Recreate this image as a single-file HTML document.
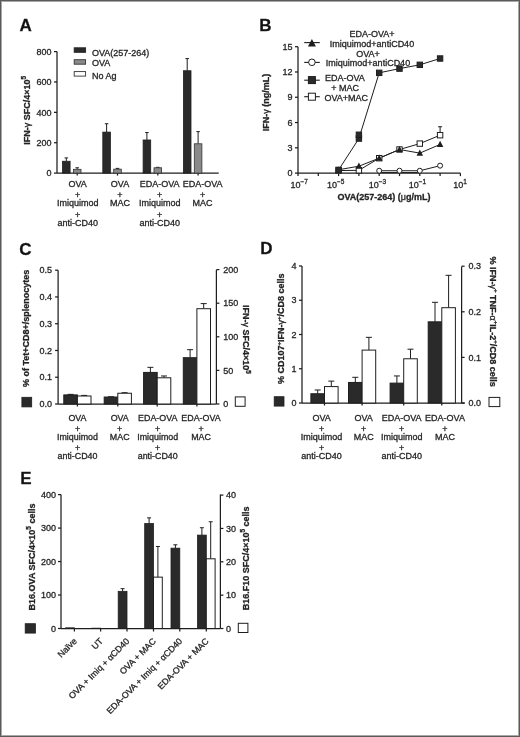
<!DOCTYPE html>
<html><head><meta charset="utf-8"><style>
html,body{margin:0;padding:0;background:#fff;}
#f{position:relative;width:520px;height:737px;overflow:hidden;}
svg{position:absolute;left:0;top:0;will-change:transform;}
text{font-family:"Liberation Sans", sans-serif;stroke:#2a2a2a;stroke-width:0.3px;}
</style></head><body><div id="f">
<svg width="520" height="737" viewBox="0 0 520 737">
<rect x="0" y="0" width="520" height="737" fill="#fff"/>
<text x="19.50" y="31.40" font-size="17" text-anchor="start" font-weight="bold" fill="#111" >A</text>
<line x1="57.00" y1="51.60" x2="57.00" y2="173.10" stroke="#1e1e1e" stroke-width="1.25"/>
<line x1="54.00" y1="173.10" x2="57.00" y2="173.10" stroke="#1e1e1e" stroke-width="1.25"/>
<text x="51.50" y="176.30" font-size="9" text-anchor="end" font-weight="normal" fill="#222" >0</text>
<line x1="54.00" y1="142.72" x2="57.00" y2="142.72" stroke="#1e1e1e" stroke-width="1.25"/>
<text x="51.50" y="145.92" font-size="9" text-anchor="end" font-weight="normal" fill="#222" >200</text>
<line x1="54.00" y1="112.35" x2="57.00" y2="112.35" stroke="#1e1e1e" stroke-width="1.25"/>
<text x="51.50" y="115.55" font-size="9" text-anchor="end" font-weight="normal" fill="#222" >400</text>
<line x1="54.00" y1="81.97" x2="57.00" y2="81.97" stroke="#1e1e1e" stroke-width="1.25"/>
<text x="51.50" y="85.17" font-size="9" text-anchor="end" font-weight="normal" fill="#222" >600</text>
<line x1="54.00" y1="51.60" x2="57.00" y2="51.60" stroke="#1e1e1e" stroke-width="1.25"/>
<text x="51.50" y="54.80" font-size="9" text-anchor="end" font-weight="normal" fill="#222" >800</text>
<line x1="57.00" y1="173.10" x2="218.70" y2="173.10" stroke="#1e1e1e" stroke-width="1.25"/>
<line x1="77.20" y1="173.10" x2="77.20" y2="175.60" stroke="#1e1e1e" stroke-width="1.25"/>
<line x1="117.50" y1="173.10" x2="117.50" y2="175.60" stroke="#1e1e1e" stroke-width="1.25"/>
<line x1="157.80" y1="173.10" x2="157.80" y2="175.60" stroke="#1e1e1e" stroke-width="1.25"/>
<line x1="198.10" y1="173.10" x2="198.10" y2="175.60" stroke="#1e1e1e" stroke-width="1.25"/>
<line x1="66.30" y1="161.25" x2="66.30" y2="157.91" stroke="#1e1e1e" stroke-width="1.0"/>
<line x1="64.55" y1="157.91" x2="68.05" y2="157.91" stroke="#1e1e1e" stroke-width="1.0"/>
<rect x="62.50" y="161.25" width="7.60" height="11.85" fill="#2a2a2a" stroke="#1e1e1e" stroke-width="0.8"/>
<line x1="77.20" y1="169.30" x2="77.20" y2="167.78" stroke="#1e1e1e" stroke-width="1.0"/>
<line x1="75.45" y1="167.78" x2="78.95" y2="167.78" stroke="#1e1e1e" stroke-width="1.0"/>
<rect x="73.40" y="169.30" width="7.60" height="3.80" fill="#8a8a8a" stroke="#333" stroke-width="0.8"/>
<line x1="106.60" y1="132.09" x2="106.60" y2="123.74" stroke="#1e1e1e" stroke-width="1.0"/>
<line x1="104.85" y1="123.74" x2="108.35" y2="123.74" stroke="#1e1e1e" stroke-width="1.0"/>
<rect x="102.80" y="132.09" width="7.60" height="41.01" fill="#2a2a2a" stroke="#1e1e1e" stroke-width="0.8"/>
<line x1="117.50" y1="169.15" x2="117.50" y2="168.39" stroke="#1e1e1e" stroke-width="1.0"/>
<line x1="115.75" y1="168.39" x2="119.25" y2="168.39" stroke="#1e1e1e" stroke-width="1.0"/>
<rect x="113.70" y="169.15" width="7.60" height="3.95" fill="#8a8a8a" stroke="#333" stroke-width="0.8"/>
<line x1="146.90" y1="139.99" x2="146.90" y2="132.55" stroke="#1e1e1e" stroke-width="1.0"/>
<line x1="145.15" y1="132.55" x2="148.65" y2="132.55" stroke="#1e1e1e" stroke-width="1.0"/>
<rect x="143.10" y="139.99" width="7.60" height="33.11" fill="#2a2a2a" stroke="#1e1e1e" stroke-width="0.8"/>
<line x1="157.80" y1="167.78" x2="157.80" y2="167.33" stroke="#1e1e1e" stroke-width="1.0"/>
<line x1="156.05" y1="167.33" x2="159.55" y2="167.33" stroke="#1e1e1e" stroke-width="1.0"/>
<rect x="154.00" y="167.78" width="7.60" height="5.32" fill="#8a8a8a" stroke="#333" stroke-width="0.8"/>
<line x1="187.20" y1="70.74" x2="187.20" y2="58.59" stroke="#1e1e1e" stroke-width="1.0"/>
<line x1="185.45" y1="58.59" x2="188.95" y2="58.59" stroke="#1e1e1e" stroke-width="1.0"/>
<rect x="183.40" y="70.74" width="7.60" height="102.36" fill="#2a2a2a" stroke="#1e1e1e" stroke-width="0.8"/>
<line x1="198.10" y1="143.79" x2="198.10" y2="131.64" stroke="#1e1e1e" stroke-width="1.0"/>
<line x1="196.35" y1="131.64" x2="199.85" y2="131.64" stroke="#1e1e1e" stroke-width="1.0"/>
<rect x="194.30" y="143.79" width="7.60" height="29.31" fill="#8a8a8a" stroke="#333" stroke-width="0.8"/>
<rect x="74.20" y="47.80" width="11.40" height="4.50" fill="#2a2a2a" stroke="#222" stroke-width="0.9"/>
<rect x="74.20" y="59.70" width="11.40" height="4.50" fill="#8a8a8a" stroke="#333" stroke-width="0.9"/>
<rect x="74.20" y="71.60" width="11.40" height="4.50" fill="#fff" stroke="#333" stroke-width="0.9"/>
<text x="92.00" y="55.50" font-size="9" text-anchor="start" font-weight="normal" fill="#222" >OVA(257-264)</text>
<text x="92.00" y="66.00" font-size="9" text-anchor="start" font-weight="normal" fill="#222" >OVA</text>
<text x="92.00" y="79.40" font-size="9" text-anchor="start" font-weight="normal" fill="#222" >No Ag</text>
<text x="77.70" y="186.70" font-size="9.0" text-anchor="middle" font-weight="normal" fill="#222" >OVA</text>
<text x="77.70" y="198.25" font-size="9.0" text-anchor="middle" font-weight="normal" fill="#222" >+</text>
<text x="77.70" y="206.20" font-size="9.0" text-anchor="middle" font-weight="normal" fill="#222" >Imiquimod</text>
<text x="77.70" y="217.75" font-size="9.0" text-anchor="middle" font-weight="normal" fill="#222" >+</text>
<text x="77.70" y="225.70" font-size="9.0" text-anchor="middle" font-weight="normal" fill="#222" >anti-CD40</text>
<text x="120.00" y="186.70" font-size="9.0" text-anchor="middle" font-weight="normal" fill="#222" >OVA</text>
<text x="120.00" y="198.25" font-size="9.0" text-anchor="middle" font-weight="normal" fill="#222" >+</text>
<text x="120.00" y="206.20" font-size="9.0" text-anchor="middle" font-weight="normal" fill="#222" >MAC</text>
<text x="159.70" y="186.70" font-size="9.0" text-anchor="middle" font-weight="normal" fill="#222" >EDA-OVA</text>
<text x="159.70" y="198.25" font-size="9.0" text-anchor="middle" font-weight="normal" fill="#222" >+</text>
<text x="159.70" y="206.20" font-size="9.0" text-anchor="middle" font-weight="normal" fill="#222" >Imiquimod</text>
<text x="159.70" y="217.75" font-size="9.0" text-anchor="middle" font-weight="normal" fill="#222" >+</text>
<text x="159.70" y="225.70" font-size="9.0" text-anchor="middle" font-weight="normal" fill="#222" >anti-CD40</text>
<text x="202.60" y="186.70" font-size="9.0" text-anchor="middle" font-weight="normal" fill="#222" >EDA-OVA</text>
<text x="202.60" y="198.25" font-size="9.0" text-anchor="middle" font-weight="normal" fill="#222" >+</text>
<text x="202.60" y="206.20" font-size="9.0" text-anchor="middle" font-weight="normal" fill="#222" >MAC</text>
<text transform="translate(29.6,110.3) rotate(-90)" font-size="9" text-anchor="middle" font-weight="bold" fill="#222">IFN-<tspan font-weight="normal">γ</tspan> SFC/4×10<tspan font-size="6.5" dy="-3.6">5</tspan></text>
<text x="259.30" y="31.20" font-size="17" text-anchor="start" font-weight="bold" fill="#111" >B</text>
<line x1="298.00" y1="46.70" x2="298.00" y2="173.10" stroke="#1e1e1e" stroke-width="1.25"/>
<line x1="295.00" y1="173.10" x2="298.00" y2="173.10" stroke="#1e1e1e" stroke-width="1.25"/>
<text x="292.50" y="176.30" font-size="9" text-anchor="end" font-weight="normal" fill="#222" >0</text>
<line x1="295.00" y1="147.82" x2="298.00" y2="147.82" stroke="#1e1e1e" stroke-width="1.25"/>
<text x="292.50" y="151.02" font-size="9" text-anchor="end" font-weight="normal" fill="#222" >3</text>
<line x1="295.00" y1="122.54" x2="298.00" y2="122.54" stroke="#1e1e1e" stroke-width="1.25"/>
<text x="292.50" y="125.74" font-size="9" text-anchor="end" font-weight="normal" fill="#222" >6</text>
<line x1="295.00" y1="97.26" x2="298.00" y2="97.26" stroke="#1e1e1e" stroke-width="1.25"/>
<text x="292.50" y="100.46" font-size="9" text-anchor="end" font-weight="normal" fill="#222" >9</text>
<line x1="295.00" y1="71.98" x2="298.00" y2="71.98" stroke="#1e1e1e" stroke-width="1.25"/>
<text x="292.50" y="75.18" font-size="9" text-anchor="end" font-weight="normal" fill="#222" >12</text>
<line x1="295.00" y1="46.70" x2="298.00" y2="46.70" stroke="#1e1e1e" stroke-width="1.25"/>
<text x="292.50" y="49.90" font-size="9" text-anchor="end" font-weight="normal" fill="#222" >15</text>
<line x1="298.00" y1="173.10" x2="460.40" y2="173.10" stroke="#1e1e1e" stroke-width="1.25"/>
<line x1="298.00" y1="173.10" x2="298.00" y2="176.10" stroke="#1e1e1e" stroke-width="1.25"/>
<line x1="318.30" y1="173.10" x2="318.30" y2="176.10" stroke="#1e1e1e" stroke-width="1.25"/>
<line x1="338.60" y1="173.10" x2="338.60" y2="176.10" stroke="#1e1e1e" stroke-width="1.25"/>
<line x1="358.90" y1="173.10" x2="358.90" y2="176.10" stroke="#1e1e1e" stroke-width="1.25"/>
<line x1="379.20" y1="173.10" x2="379.20" y2="176.10" stroke="#1e1e1e" stroke-width="1.25"/>
<line x1="399.50" y1="173.10" x2="399.50" y2="176.10" stroke="#1e1e1e" stroke-width="1.25"/>
<line x1="419.80" y1="173.10" x2="419.80" y2="176.10" stroke="#1e1e1e" stroke-width="1.25"/>
<line x1="440.10" y1="173.10" x2="440.10" y2="176.10" stroke="#1e1e1e" stroke-width="1.25"/>
<line x1="460.40" y1="173.10" x2="460.40" y2="176.10" stroke="#1e1e1e" stroke-width="1.25"/>
<text x="299.10" y="188.10" font-size="9" text-anchor="middle" fill="#222">10<tspan font-size="6.5" dy="-3.8">−7</tspan></text>
<text x="335.70" y="188.10" font-size="9" text-anchor="middle" fill="#222">10<tspan font-size="6.5" dy="-3.8">−5</tspan></text>
<text x="377.40" y="188.10" font-size="9" text-anchor="middle" fill="#222">10<tspan font-size="6.5" dy="-3.8">−3</tspan></text>
<text x="417.40" y="188.10" font-size="9" text-anchor="middle" fill="#222">10<tspan font-size="6.5" dy="-3.8">−1</tspan></text>
<text x="460.00" y="188.10" font-size="9" text-anchor="middle" fill="#222">10<tspan font-size="6.5" dy="-3.8">1</tspan></text>
<text x="384" y="199.5" font-size="9" text-anchor="middle" font-weight="bold" fill="#222">OVA(257-264) (<tspan font-weight="normal">μ</tspan>g/mL)</text>
<text transform="translate(268.7,102.5) rotate(-90)" font-size="9" text-anchor="middle" font-weight="bold" fill="#222">IFN-<tspan font-weight="normal">γ</tspan> (ng/mL)</text>
<polyline points="379.20,170.74 399.50,170.74 419.80,170.74 440.10,165.68" fill="none" stroke="#1e1e1e" stroke-width="1"/>
<polyline points="379.20,172.54 399.50,172.54 419.80,172.54" fill="none" stroke="#1e1e1e" stroke-width="1"/>
<polyline points="338.60,169.73 358.90,166.19 379.20,158.18 399.50,149.51 419.80,153.13 440.10,144.45" fill="none" stroke="#1e1e1e" stroke-width="1"/>
<polyline points="338.60,170.57 358.90,170.32 379.20,158.18 399.50,149.51 419.80,143.61 440.10,135.18" fill="none" stroke="#1e1e1e" stroke-width="1"/>
<polyline points="338.60,169.90 358.90,138.55 379.20,72.82 399.50,68.61 419.80,64.82 440.10,58.50" fill="none" stroke="#1e1e1e" stroke-width="1"/>
<line x1="440.10" y1="135.18" x2="440.10" y2="126.75" stroke="#1e1e1e" stroke-width="1.0"/>
<line x1="438.10" y1="126.75" x2="442.10" y2="126.75" stroke="#1e1e1e" stroke-width="1.0"/>
<circle cx="379.20" cy="170.74" r="2.5" fill="#fff" stroke="#1e1e1e" stroke-width="1"/>
<circle cx="399.50" cy="170.74" r="2.5" fill="#fff" stroke="#1e1e1e" stroke-width="1"/>
<circle cx="419.80" cy="170.74" r="2.5" fill="#fff" stroke="#1e1e1e" stroke-width="1"/>
<circle cx="440.10" cy="165.68" r="2.5" fill="#fff" stroke="#1e1e1e" stroke-width="1"/>
<rect x="335.90" y="167.87" width="5.40" height="5.40" fill="#fff" stroke="#1e1e1e" stroke-width="1"/>
<rect x="356.20" y="167.62" width="5.40" height="5.40" fill="#fff" stroke="#1e1e1e" stroke-width="1"/>
<rect x="376.50" y="155.48" width="5.40" height="5.40" fill="#fff" stroke="#1e1e1e" stroke-width="1"/>
<rect x="396.80" y="146.81" width="5.40" height="5.40" fill="#fff" stroke="#1e1e1e" stroke-width="1"/>
<rect x="417.10" y="140.91" width="5.40" height="5.40" fill="#fff" stroke="#1e1e1e" stroke-width="1"/>
<rect x="437.40" y="132.48" width="5.40" height="5.40" fill="#fff" stroke="#1e1e1e" stroke-width="1"/>
<polygon points="338.60,166.15 335.35,172.33 341.85,172.33" fill="#1e1e1e"/>
<polygon points="358.90,162.62 355.65,168.79 362.15,168.79" fill="#1e1e1e"/>
<polygon points="379.20,154.61 375.95,160.78 382.45,160.78" fill="#1e1e1e"/>
<polygon points="399.50,145.93 396.25,152.11 402.75,152.11" fill="#1e1e1e"/>
<polygon points="419.80,149.55 416.55,155.73 423.05,155.73" fill="#1e1e1e"/>
<polygon points="440.10,140.87 436.85,147.05 443.35,147.05" fill="#1e1e1e"/>
<rect x="335.90" y="167.20" width="5.40" height="5.40" fill="#2a2a2a" stroke="#1e1e1e" stroke-width="1"/>
<rect x="356.20" y="135.85" width="5.40" height="5.40" fill="#2a2a2a" stroke="#1e1e1e" stroke-width="1"/>
<rect x="376.50" y="70.12" width="5.40" height="5.40" fill="#2a2a2a" stroke="#1e1e1e" stroke-width="1"/>
<rect x="396.80" y="65.91" width="5.40" height="5.40" fill="#2a2a2a" stroke="#1e1e1e" stroke-width="1"/>
<rect x="417.10" y="62.12" width="5.40" height="5.40" fill="#2a2a2a" stroke="#1e1e1e" stroke-width="1"/>
<rect x="437.40" y="55.80" width="5.40" height="5.40" fill="#2a2a2a" stroke="#1e1e1e" stroke-width="1"/>
<rect x="356.20" y="132.06" width="5.40" height="5.40" fill="#2a2a2a" stroke="#1e1e1e" stroke-width="1"/>
<line x1="304.20" y1="42.60" x2="319.80" y2="42.60" stroke="#1e1e1e" stroke-width="1.1"/>
<polygon points="311.90,38.90 307.90,46.50 315.90,46.50" fill="#1e1e1e"/>
<line x1="304.20" y1="62.40" x2="319.80" y2="62.40" stroke="#1e1e1e" stroke-width="1.1"/>
<circle cx="311.90" cy="62.30" r="3.3" fill="#fff" stroke="#1e1e1e" stroke-width="1"/>
<line x1="304.20" y1="80.20" x2="319.80" y2="80.20" stroke="#1e1e1e" stroke-width="1.1"/>
<rect x="308.40" y="76.60" width="7.00" height="7.00" fill="#2a2a2a" stroke="#1e1e1e" stroke-width="1"/>
<line x1="304.20" y1="96.70" x2="319.80" y2="96.70" stroke="#1e1e1e" stroke-width="1.1"/>
<rect x="308.40" y="93.20" width="7.00" height="7.00" fill="#fff" stroke="#1e1e1e" stroke-width="1"/>
<text x="372.00" y="37.30" font-size="9" text-anchor="middle" font-weight="normal" fill="#222" >EDA-OVA+</text>
<text x="372.00" y="46.60" font-size="9" text-anchor="middle" font-weight="normal" fill="#222" >Imiquimod+antiCD40</text>
<text x="368.00" y="56.90" font-size="9" text-anchor="middle" font-weight="normal" fill="#222" >OVA+</text>
<text x="368.00" y="66.40" font-size="9" text-anchor="middle" font-weight="normal" fill="#222" >Imiquimod+antiCD40</text>
<text x="344.80" y="81.10" font-size="9" text-anchor="middle" font-weight="normal" fill="#222" >EDA-OVA</text>
<text x="345.20" y="90.80" font-size="9" text-anchor="middle" font-weight="normal" fill="#222" >+ MAC</text>
<text x="346.30" y="100.70" font-size="9" text-anchor="middle" font-weight="normal" fill="#222" >OVA+MAC</text>
<text x="19.30" y="255.00" font-size="17" text-anchor="start" font-weight="bold" fill="#111" >C</text>
<line x1="58.10" y1="270.20" x2="58.10" y2="404.00" stroke="#1e1e1e" stroke-width="1.25"/>
<line x1="55.10" y1="404.00" x2="58.10" y2="404.00" stroke="#1e1e1e" stroke-width="1.25"/>
<text x="52.00" y="407.20" font-size="9" text-anchor="end" font-weight="normal" fill="#222" >0.0</text>
<line x1="55.10" y1="377.24" x2="58.10" y2="377.24" stroke="#1e1e1e" stroke-width="1.25"/>
<text x="52.00" y="380.44" font-size="9" text-anchor="end" font-weight="normal" fill="#222" >0.1</text>
<line x1="55.10" y1="350.48" x2="58.10" y2="350.48" stroke="#1e1e1e" stroke-width="1.25"/>
<text x="52.00" y="353.68" font-size="9" text-anchor="end" font-weight="normal" fill="#222" >0.2</text>
<line x1="55.10" y1="323.72" x2="58.10" y2="323.72" stroke="#1e1e1e" stroke-width="1.25"/>
<text x="52.00" y="326.92" font-size="9" text-anchor="end" font-weight="normal" fill="#222" >0.3</text>
<line x1="55.10" y1="296.96" x2="58.10" y2="296.96" stroke="#1e1e1e" stroke-width="1.25"/>
<text x="52.00" y="300.16" font-size="9" text-anchor="end" font-weight="normal" fill="#222" >0.4</text>
<line x1="55.10" y1="270.20" x2="58.10" y2="270.20" stroke="#1e1e1e" stroke-width="1.25"/>
<text x="52.00" y="273.40" font-size="9" text-anchor="end" font-weight="normal" fill="#222" >0.5</text>
<line x1="216.40" y1="269.80" x2="216.40" y2="404.00" stroke="#1e1e1e" stroke-width="1.25"/>
<line x1="216.40" y1="404.00" x2="219.40" y2="404.00" stroke="#1e1e1e" stroke-width="1.25"/>
<text x="223.30" y="407.20" font-size="9" text-anchor="start" font-weight="normal" fill="#222" >0</text>
<line x1="216.40" y1="370.40" x2="219.40" y2="370.40" stroke="#1e1e1e" stroke-width="1.25"/>
<text x="223.30" y="373.60" font-size="9" text-anchor="start" font-weight="normal" fill="#222" >50</text>
<line x1="216.40" y1="336.80" x2="219.40" y2="336.80" stroke="#1e1e1e" stroke-width="1.25"/>
<text x="223.30" y="340.00" font-size="9" text-anchor="start" font-weight="normal" fill="#222" >100</text>
<line x1="216.40" y1="303.20" x2="219.40" y2="303.20" stroke="#1e1e1e" stroke-width="1.25"/>
<text x="223.30" y="306.40" font-size="9" text-anchor="start" font-weight="normal" fill="#222" >150</text>
<line x1="216.40" y1="269.60" x2="219.40" y2="269.60" stroke="#1e1e1e" stroke-width="1.25"/>
<text x="223.30" y="272.80" font-size="9" text-anchor="start" font-weight="normal" fill="#222" >200</text>
<line x1="58.10" y1="404.00" x2="216.40" y2="404.00" stroke="#1e1e1e" stroke-width="1.25"/>
<line x1="77.40" y1="404.00" x2="77.40" y2="406.50" stroke="#1e1e1e" stroke-width="1.25"/>
<line x1="117.80" y1="404.00" x2="117.80" y2="406.50" stroke="#1e1e1e" stroke-width="1.25"/>
<line x1="157.20" y1="404.00" x2="157.20" y2="406.50" stroke="#1e1e1e" stroke-width="1.25"/>
<line x1="196.90" y1="404.00" x2="196.90" y2="406.50" stroke="#1e1e1e" stroke-width="1.25"/>
<line x1="70.60" y1="394.90" x2="70.60" y2="394.37" stroke="#1e1e1e" stroke-width="1.0"/>
<line x1="67.60" y1="394.37" x2="73.60" y2="394.37" stroke="#1e1e1e" stroke-width="1.0"/>
<rect x="63.80" y="394.90" width="13.60" height="9.10" fill="#2a2a2a" stroke="#1e1e1e" stroke-width="1"/>
<line x1="84.20" y1="396.00" x2="84.20" y2="395.40" stroke="#1e1e1e" stroke-width="1.0"/>
<line x1="81.20" y1="395.40" x2="87.20" y2="395.40" stroke="#1e1e1e" stroke-width="1.0"/>
<rect x="77.40" y="396.00" width="13.60" height="8.00" fill="#fff" stroke="#1e1e1e" stroke-width="1"/>
<line x1="111.00" y1="397.04" x2="111.00" y2="396.77" stroke="#1e1e1e" stroke-width="1.0"/>
<line x1="108.00" y1="396.77" x2="114.00" y2="396.77" stroke="#1e1e1e" stroke-width="1.0"/>
<rect x="104.20" y="397.04" width="13.60" height="6.96" fill="#2a2a2a" stroke="#1e1e1e" stroke-width="1"/>
<line x1="124.60" y1="393.25" x2="124.60" y2="392.71" stroke="#1e1e1e" stroke-width="1.0"/>
<line x1="121.60" y1="392.71" x2="127.60" y2="392.71" stroke="#1e1e1e" stroke-width="1.0"/>
<rect x="117.80" y="393.25" width="13.60" height="10.75" fill="#fff" stroke="#1e1e1e" stroke-width="1"/>
<line x1="150.40" y1="372.42" x2="150.40" y2="367.34" stroke="#1e1e1e" stroke-width="1.0"/>
<line x1="147.40" y1="367.34" x2="153.40" y2="367.34" stroke="#1e1e1e" stroke-width="1.0"/>
<rect x="143.60" y="372.42" width="13.60" height="31.58" fill="#2a2a2a" stroke="#1e1e1e" stroke-width="1"/>
<line x1="164.00" y1="377.79" x2="164.00" y2="375.98" stroke="#1e1e1e" stroke-width="1.0"/>
<line x1="161.00" y1="375.98" x2="167.00" y2="375.98" stroke="#1e1e1e" stroke-width="1.0"/>
<rect x="157.20" y="377.79" width="13.60" height="26.21" fill="#fff" stroke="#1e1e1e" stroke-width="1"/>
<line x1="190.10" y1="357.71" x2="190.10" y2="349.68" stroke="#1e1e1e" stroke-width="1.0"/>
<line x1="187.10" y1="349.68" x2="193.10" y2="349.68" stroke="#1e1e1e" stroke-width="1.0"/>
<rect x="183.30" y="357.71" width="13.60" height="46.29" fill="#2a2a2a" stroke="#1e1e1e" stroke-width="1"/>
<line x1="203.70" y1="308.71" x2="203.70" y2="303.60" stroke="#1e1e1e" stroke-width="1.0"/>
<line x1="200.70" y1="303.60" x2="206.70" y2="303.60" stroke="#1e1e1e" stroke-width="1.0"/>
<rect x="196.90" y="308.71" width="13.60" height="95.29" fill="#fff" stroke="#1e1e1e" stroke-width="1"/>
<rect x="21.90" y="397.30" width="9.80" height="9.60" fill="#2a2a2a" stroke="#1e1e1e" stroke-width="0.8"/>
<rect x="235.30" y="396.90" width="9.80" height="9.40" fill="#fff" stroke="#1e1e1e" stroke-width="1"/>
<text x="77.50" y="420.60" font-size="8.9" text-anchor="middle" font-weight="normal" fill="#222" >OVA</text>
<text x="77.50" y="431.80" font-size="8.9" text-anchor="middle" font-weight="normal" fill="#222" >+</text>
<text x="77.50" y="439.60" font-size="8.9" text-anchor="middle" font-weight="normal" fill="#222" >Imiquimod</text>
<text x="77.50" y="450.80" font-size="8.9" text-anchor="middle" font-weight="normal" fill="#222" >+</text>
<text x="77.50" y="458.60" font-size="8.9" text-anchor="middle" font-weight="normal" fill="#222" >anti-CD40</text>
<text x="119.70" y="420.60" font-size="8.9" text-anchor="middle" font-weight="normal" fill="#222" >OVA</text>
<text x="119.70" y="431.80" font-size="8.9" text-anchor="middle" font-weight="normal" fill="#222" >+</text>
<text x="119.70" y="439.60" font-size="8.9" text-anchor="middle" font-weight="normal" fill="#222" >MAC</text>
<text x="157.70" y="420.60" font-size="8.9" text-anchor="middle" font-weight="normal" fill="#222" >EDA-OVA</text>
<text x="157.70" y="431.80" font-size="8.9" text-anchor="middle" font-weight="normal" fill="#222" >+</text>
<text x="157.70" y="439.60" font-size="8.9" text-anchor="middle" font-weight="normal" fill="#222" >Imiquimod</text>
<text x="157.70" y="450.80" font-size="8.9" text-anchor="middle" font-weight="normal" fill="#222" >+</text>
<text x="157.70" y="458.60" font-size="8.9" text-anchor="middle" font-weight="normal" fill="#222" >anti-CD40</text>
<text x="201.00" y="420.60" font-size="8.9" text-anchor="middle" font-weight="normal" fill="#222" >EDA-OVA</text>
<text x="201.00" y="431.80" font-size="8.9" text-anchor="middle" font-weight="normal" fill="#222" >+</text>
<text x="201.00" y="439.60" font-size="8.9" text-anchor="middle" font-weight="normal" fill="#222" >MAC</text>
<text transform="translate(29.4,328.4) rotate(-90)" font-size="9" text-anchor="middle" font-weight="bold" fill="#222">% of Tet+CD8+/splenocytes</text>
<text transform="translate(242.5,339.4) rotate(90)" font-size="9" text-anchor="middle" font-weight="bold" fill="#222">IFN-<tspan font-weight="normal">γ</tspan> SFC/4×10<tspan font-size="6.5" dy="-3.6">5</tspan></text>
<text x="260.30" y="254.00" font-size="17" text-anchor="start" font-weight="bold" fill="#111" >D</text>
<line x1="302.00" y1="266.00" x2="302.00" y2="403.00" stroke="#1e1e1e" stroke-width="1.25"/>
<line x1="299.00" y1="403.00" x2="302.00" y2="403.00" stroke="#1e1e1e" stroke-width="1.25"/>
<text x="296.50" y="406.20" font-size="9" text-anchor="end" font-weight="normal" fill="#222" >0</text>
<line x1="299.00" y1="368.75" x2="302.00" y2="368.75" stroke="#1e1e1e" stroke-width="1.25"/>
<text x="296.50" y="371.95" font-size="9" text-anchor="end" font-weight="normal" fill="#222" >1</text>
<line x1="299.00" y1="334.50" x2="302.00" y2="334.50" stroke="#1e1e1e" stroke-width="1.25"/>
<text x="296.50" y="337.70" font-size="9" text-anchor="end" font-weight="normal" fill="#222" >2</text>
<line x1="299.00" y1="300.25" x2="302.00" y2="300.25" stroke="#1e1e1e" stroke-width="1.25"/>
<text x="296.50" y="303.45" font-size="9" text-anchor="end" font-weight="normal" fill="#222" >3</text>
<line x1="299.00" y1="266.00" x2="302.00" y2="266.00" stroke="#1e1e1e" stroke-width="1.25"/>
<text x="296.50" y="269.20" font-size="9" text-anchor="end" font-weight="normal" fill="#222" >4</text>
<line x1="461.60" y1="266.50" x2="461.60" y2="403.00" stroke="#1e1e1e" stroke-width="1.25"/>
<line x1="461.60" y1="403.00" x2="464.60" y2="403.00" stroke="#1e1e1e" stroke-width="1.25"/>
<text x="468.50" y="406.20" font-size="9" text-anchor="start" font-weight="normal" fill="#222" >0.0</text>
<line x1="461.60" y1="357.40" x2="464.60" y2="357.40" stroke="#1e1e1e" stroke-width="1.25"/>
<text x="468.50" y="360.60" font-size="9" text-anchor="start" font-weight="normal" fill="#222" >0.1</text>
<line x1="461.60" y1="311.80" x2="464.60" y2="311.80" stroke="#1e1e1e" stroke-width="1.25"/>
<text x="468.50" y="315.00" font-size="9" text-anchor="start" font-weight="normal" fill="#222" >0.2</text>
<line x1="461.60" y1="266.20" x2="464.60" y2="266.20" stroke="#1e1e1e" stroke-width="1.25"/>
<text x="468.50" y="269.40" font-size="9" text-anchor="start" font-weight="normal" fill="#222" >0.3</text>
<line x1="302.00" y1="403.00" x2="464.80" y2="403.00" stroke="#1e1e1e" stroke-width="1.25"/>
<line x1="324.50" y1="403.00" x2="324.50" y2="405.50" stroke="#1e1e1e" stroke-width="1.25"/>
<line x1="362.10" y1="403.00" x2="362.10" y2="405.50" stroke="#1e1e1e" stroke-width="1.25"/>
<line x1="403.70" y1="403.00" x2="403.70" y2="405.50" stroke="#1e1e1e" stroke-width="1.25"/>
<line x1="441.80" y1="403.00" x2="441.80" y2="405.50" stroke="#1e1e1e" stroke-width="1.25"/>
<line x1="317.70" y1="393.75" x2="317.70" y2="389.99" stroke="#1e1e1e" stroke-width="1.0"/>
<line x1="314.70" y1="389.99" x2="320.70" y2="389.99" stroke="#1e1e1e" stroke-width="1.0"/>
<rect x="310.90" y="393.75" width="13.60" height="9.25" fill="#2a2a2a" stroke="#1e1e1e" stroke-width="1"/>
<line x1="331.30" y1="386.58" x2="331.30" y2="381.11" stroke="#1e1e1e" stroke-width="1.0"/>
<line x1="328.30" y1="381.11" x2="334.30" y2="381.11" stroke="#1e1e1e" stroke-width="1.0"/>
<rect x="324.50" y="386.58" width="13.60" height="16.42" fill="#fff" stroke="#1e1e1e" stroke-width="1"/>
<line x1="355.30" y1="382.45" x2="355.30" y2="377.31" stroke="#1e1e1e" stroke-width="1.0"/>
<line x1="352.30" y1="377.31" x2="358.30" y2="377.31" stroke="#1e1e1e" stroke-width="1.0"/>
<rect x="348.50" y="382.45" width="13.60" height="20.55" fill="#2a2a2a" stroke="#1e1e1e" stroke-width="1"/>
<line x1="368.90" y1="350.10" x2="368.90" y2="337.34" stroke="#1e1e1e" stroke-width="1.0"/>
<line x1="365.90" y1="337.34" x2="371.90" y2="337.34" stroke="#1e1e1e" stroke-width="1.0"/>
<rect x="362.10" y="350.10" width="13.60" height="52.90" fill="#fff" stroke="#1e1e1e" stroke-width="1"/>
<line x1="396.90" y1="383.13" x2="396.90" y2="375.94" stroke="#1e1e1e" stroke-width="1.0"/>
<line x1="393.90" y1="375.94" x2="399.90" y2="375.94" stroke="#1e1e1e" stroke-width="1.0"/>
<rect x="390.10" y="383.13" width="13.60" height="19.86" fill="#2a2a2a" stroke="#1e1e1e" stroke-width="1"/>
<line x1="410.50" y1="358.77" x2="410.50" y2="349.19" stroke="#1e1e1e" stroke-width="1.0"/>
<line x1="407.50" y1="349.19" x2="413.50" y2="349.19" stroke="#1e1e1e" stroke-width="1.0"/>
<rect x="403.70" y="358.77" width="13.60" height="44.23" fill="#fff" stroke="#1e1e1e" stroke-width="1"/>
<line x1="435.00" y1="321.83" x2="435.00" y2="302.31" stroke="#1e1e1e" stroke-width="1.0"/>
<line x1="432.00" y1="302.31" x2="438.00" y2="302.31" stroke="#1e1e1e" stroke-width="1.0"/>
<rect x="428.20" y="321.83" width="13.60" height="81.17" fill="#2a2a2a" stroke="#1e1e1e" stroke-width="1"/>
<line x1="448.60" y1="307.70" x2="448.60" y2="275.32" stroke="#1e1e1e" stroke-width="1.0"/>
<line x1="445.60" y1="275.32" x2="451.60" y2="275.32" stroke="#1e1e1e" stroke-width="1.0"/>
<rect x="441.80" y="307.70" width="13.60" height="95.30" fill="#fff" stroke="#1e1e1e" stroke-width="1"/>
<rect x="274.20" y="396.70" width="9.80" height="9.40" fill="#2a2a2a" stroke="#1e1e1e" stroke-width="0.8"/>
<rect x="489.00" y="397.40" width="10.80" height="9.20" fill="#fff" stroke="#1e1e1e" stroke-width="1"/>
<text x="321.60" y="420.60" font-size="9.0" text-anchor="middle" font-weight="normal" fill="#222" >OVA</text>
<text x="321.60" y="431.80" font-size="9.0" text-anchor="middle" font-weight="normal" fill="#222" >+</text>
<text x="321.60" y="439.60" font-size="9.0" text-anchor="middle" font-weight="normal" fill="#222" >Imiquimod</text>
<text x="321.60" y="450.80" font-size="9.0" text-anchor="middle" font-weight="normal" fill="#222" >+</text>
<text x="321.60" y="458.60" font-size="9.0" text-anchor="middle" font-weight="normal" fill="#222" >anti-CD40</text>
<text x="363.70" y="420.60" font-size="9.0" text-anchor="middle" font-weight="normal" fill="#222" >OVA</text>
<text x="363.70" y="431.80" font-size="9.0" text-anchor="middle" font-weight="normal" fill="#222" >+</text>
<text x="363.70" y="439.60" font-size="9.0" text-anchor="middle" font-weight="normal" fill="#222" >MAC</text>
<text x="401.70" y="420.60" font-size="9.0" text-anchor="middle" font-weight="normal" fill="#222" >EDA-OVA</text>
<text x="401.70" y="431.80" font-size="9.0" text-anchor="middle" font-weight="normal" fill="#222" >+</text>
<text x="401.70" y="439.60" font-size="9.0" text-anchor="middle" font-weight="normal" fill="#222" >Imiquimod</text>
<text x="401.70" y="450.80" font-size="9.0" text-anchor="middle" font-weight="normal" fill="#222" >+</text>
<text x="401.70" y="458.60" font-size="9.0" text-anchor="middle" font-weight="normal" fill="#222" >anti-CD40</text>
<text x="445.00" y="420.60" font-size="9.0" text-anchor="middle" font-weight="normal" fill="#222" >EDA-OVA</text>
<text x="445.00" y="431.80" font-size="9.0" text-anchor="middle" font-weight="normal" fill="#222" >+</text>
<text x="445.00" y="439.60" font-size="9.0" text-anchor="middle" font-weight="normal" fill="#222" >MAC</text>
<text transform="translate(284.2,328.8) rotate(-90)" font-size="9" text-anchor="middle" font-weight="bold" fill="#222">% CD107<tspan font-size="6" dy="-3.5">+</tspan><tspan dy="3.5">IFN-</tspan><tspan font-weight="normal">γ</tspan><tspan font-size="6" dy="-3.5">+</tspan><tspan dy="3.5">/CD8 cells</tspan></text>
<text transform="translate(490.2,321.7) rotate(90)" font-size="9" text-anchor="middle" font-weight="bold" fill="#222">% IFN-<tspan font-weight="normal">γ</tspan><tspan font-size="6" dy="-3.5">+</tspan><tspan dy="3.5"> TNF-</tspan><tspan font-weight="normal">α</tspan><tspan font-size="6" dy="-3.5">+</tspan><tspan dy="3.5">IL-2</tspan><tspan font-size="6" dy="-3.5">+</tspan><tspan dy="3.5">/CD8 cells</tspan></text>
<text x="20.20" y="483.50" font-size="17" text-anchor="start" font-weight="bold" fill="#111" >E</text>
<line x1="61.00" y1="494.60" x2="61.00" y2="628.50" stroke="#1e1e1e" stroke-width="1.25"/>
<line x1="58.00" y1="628.50" x2="61.00" y2="628.50" stroke="#1e1e1e" stroke-width="1.25"/>
<text x="56.00" y="631.70" font-size="9" text-anchor="end" font-weight="normal" fill="#222" >0</text>
<line x1="58.00" y1="595.02" x2="61.00" y2="595.02" stroke="#1e1e1e" stroke-width="1.25"/>
<text x="56.00" y="598.23" font-size="9" text-anchor="end" font-weight="normal" fill="#222" >100</text>
<line x1="58.00" y1="561.55" x2="61.00" y2="561.55" stroke="#1e1e1e" stroke-width="1.25"/>
<text x="56.00" y="564.75" font-size="9" text-anchor="end" font-weight="normal" fill="#222" >200</text>
<line x1="58.00" y1="528.08" x2="61.00" y2="528.08" stroke="#1e1e1e" stroke-width="1.25"/>
<text x="56.00" y="531.28" font-size="9" text-anchor="end" font-weight="normal" fill="#222" >300</text>
<line x1="58.00" y1="494.60" x2="61.00" y2="494.60" stroke="#1e1e1e" stroke-width="1.25"/>
<text x="56.00" y="497.80" font-size="9" text-anchor="end" font-weight="normal" fill="#222" >400</text>
<line x1="220.40" y1="494.50" x2="220.40" y2="628.50" stroke="#1e1e1e" stroke-width="1.25"/>
<line x1="220.40" y1="628.50" x2="223.40" y2="628.50" stroke="#1e1e1e" stroke-width="1.25"/>
<text x="226.00" y="631.70" font-size="9" text-anchor="start" font-weight="normal" fill="#222" >0</text>
<line x1="220.40" y1="595.15" x2="223.40" y2="595.15" stroke="#1e1e1e" stroke-width="1.25"/>
<text x="226.00" y="598.35" font-size="9" text-anchor="start" font-weight="normal" fill="#222" >10</text>
<line x1="220.40" y1="561.80" x2="223.40" y2="561.80" stroke="#1e1e1e" stroke-width="1.25"/>
<text x="226.00" y="565.00" font-size="9" text-anchor="start" font-weight="normal" fill="#222" >20</text>
<line x1="220.40" y1="528.45" x2="223.40" y2="528.45" stroke="#1e1e1e" stroke-width="1.25"/>
<text x="226.00" y="531.65" font-size="9" text-anchor="start" font-weight="normal" fill="#222" >30</text>
<line x1="220.40" y1="495.10" x2="223.40" y2="495.10" stroke="#1e1e1e" stroke-width="1.25"/>
<text x="226.00" y="498.30" font-size="9" text-anchor="start" font-weight="normal" fill="#222" >40</text>
<line x1="61.00" y1="628.50" x2="220.40" y2="628.50" stroke="#1e1e1e" stroke-width="1.25"/>
<line x1="74.40" y1="628.50" x2="74.40" y2="631.50" stroke="#1e1e1e" stroke-width="1.25"/>
<line x1="100.60" y1="628.50" x2="100.60" y2="631.50" stroke="#1e1e1e" stroke-width="1.25"/>
<line x1="127.00" y1="628.50" x2="127.00" y2="631.50" stroke="#1e1e1e" stroke-width="1.25"/>
<line x1="153.50" y1="628.50" x2="153.50" y2="631.50" stroke="#1e1e1e" stroke-width="1.25"/>
<line x1="179.80" y1="628.50" x2="179.80" y2="631.50" stroke="#1e1e1e" stroke-width="1.25"/>
<line x1="206.30" y1="628.50" x2="206.30" y2="631.50" stroke="#1e1e1e" stroke-width="1.25"/>
<rect x="65.60" y="627.83" width="8.80" height="0.67" fill="#2a2a2a" stroke="#1e1e1e" stroke-width="0.8"/>
<rect x="91.80" y="628.17" width="8.80" height="0.33" fill="#2a2a2a" stroke="#1e1e1e" stroke-width="0.8"/>
<line x1="122.60" y1="591.34" x2="122.60" y2="588.66" stroke="#1e1e1e" stroke-width="1.0"/>
<line x1="120.60" y1="588.66" x2="124.60" y2="588.66" stroke="#1e1e1e" stroke-width="1.0"/>
<rect x="118.20" y="591.34" width="8.80" height="37.16" fill="#2a2a2a" stroke="#1e1e1e" stroke-width="0.8"/>
<line x1="149.10" y1="523.56" x2="149.10" y2="517.87" stroke="#1e1e1e" stroke-width="1.0"/>
<line x1="147.10" y1="517.87" x2="151.10" y2="517.87" stroke="#1e1e1e" stroke-width="1.0"/>
<rect x="144.70" y="523.56" width="8.80" height="104.94" fill="#2a2a2a" stroke="#1e1e1e" stroke-width="0.8"/>
<line x1="157.90" y1="577.14" x2="157.90" y2="546.46" stroke="#1e1e1e" stroke-width="1.0"/>
<line x1="155.90" y1="546.46" x2="159.90" y2="546.46" stroke="#1e1e1e" stroke-width="1.0"/>
<rect x="153.50" y="577.14" width="8.80" height="51.36" fill="#fff" stroke="#1e1e1e" stroke-width="1"/>
<line x1="175.40" y1="548.16" x2="175.40" y2="544.81" stroke="#1e1e1e" stroke-width="1.0"/>
<line x1="173.40" y1="544.81" x2="177.40" y2="544.81" stroke="#1e1e1e" stroke-width="1.0"/>
<rect x="171.00" y="548.16" width="8.80" height="80.34" fill="#2a2a2a" stroke="#1e1e1e" stroke-width="0.8"/>
<line x1="201.90" y1="535.10" x2="201.90" y2="527.74" stroke="#1e1e1e" stroke-width="1.0"/>
<line x1="199.90" y1="527.74" x2="203.90" y2="527.74" stroke="#1e1e1e" stroke-width="1.0"/>
<rect x="197.50" y="535.10" width="8.80" height="93.40" fill="#2a2a2a" stroke="#1e1e1e" stroke-width="0.8"/>
<line x1="210.70" y1="558.80" x2="210.70" y2="521.78" stroke="#1e1e1e" stroke-width="1.0"/>
<line x1="208.70" y1="521.78" x2="212.70" y2="521.78" stroke="#1e1e1e" stroke-width="1.0"/>
<rect x="206.30" y="558.80" width="8.80" height="69.70" fill="#fff" stroke="#1e1e1e" stroke-width="1"/>
<rect x="25.20" y="623.70" width="10.20" height="9.40" fill="#2a2a2a" stroke="#1e1e1e" stroke-width="0.8"/>
<rect x="238.30" y="623.30" width="9.60" height="9.20" fill="#fff" stroke="#1e1e1e" stroke-width="1"/>
<text transform="translate(77.40,641.80) rotate(-45)" font-size="8.8" text-anchor="end" fill="#222">Naïve</text>
<text transform="translate(103.60,641.80) rotate(-45)" font-size="8.8" text-anchor="end" fill="#222">UT</text>
<text transform="translate(130.00,641.80) rotate(-45)" font-size="8.8" text-anchor="end" fill="#222">OVA + Imiq + αCD40</text>
<text transform="translate(156.50,641.80) rotate(-45)" font-size="8.8" text-anchor="end" fill="#222">OVA + MAC</text>
<text transform="translate(182.80,641.80) rotate(-45)" font-size="8.8" text-anchor="end" fill="#222">EDA-OVA + Imiq + αCD40</text>
<text transform="translate(209.30,641.80) rotate(-45)" font-size="8.8" text-anchor="end" fill="#222">EDA-OVA + MAC</text>
<text transform="translate(34.6,557) rotate(-90)" font-size="9" text-anchor="middle" font-weight="bold" fill="#222">B16.OVA SFC/4×10<tspan font-size="6.5" dy="-3.6">5</tspan><tspan dy="3.5"> cells</tspan></text>
<text transform="translate(248.8,558.4) rotate(-90)" font-size="9" text-anchor="middle" font-weight="bold" fill="#222">B16.F10 SFC/4×10<tspan font-size="6.5" dy="-3.6">5</tspan><tspan dy="3.5"> cells</tspan></text>
<rect x="0.5" y="0.5" width="519" height="736" fill="none" stroke="#5a5a5a" stroke-width="1"/>
<rect x="1.5" y="1.5" width="517" height="734" fill="none" stroke="#a8a8a8" stroke-width="1"/>
</svg></div></body></html>
